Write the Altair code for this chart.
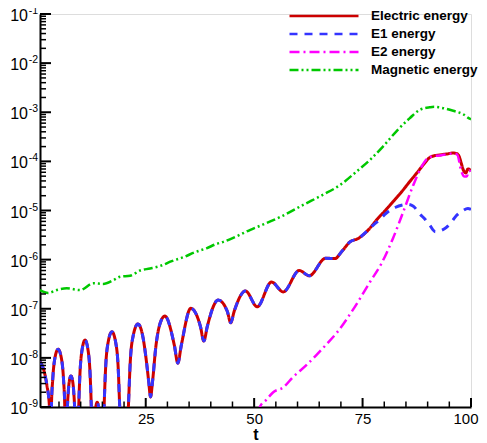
import altair as alt
import pandas as pd

# ---------------- data ----------------
# Early part: Electric energy and E1 energy coincide
osc_t = [0.62, 1.5, 2.2, 2.8, 3.0,
         3.25, 3.56, 4.02, 4.8, 5.58, 6.04, 6.33, 6.6,
         6.95, 7.11, 7.35, 7.75, 8.18, 8.43, 8.6, 9.1,
         9.55, 9.84, 10.28, 11.0, 11.73, 12.16, 12.45, 12.95,
         13.5, 13.8, 14.1, 14.75,
         15.4, 15.76, 16.3, 17.2, 18.1, 18.64, 19.0, 20.0,
         21.0, 21.44, 22.1, 23.2, 24.3, 25.2, 25.7, 26.1,
         26.6, 27.3, 28.3, 29.4, 31.6, 32.4, 33.2, 35.4, 37.6, 38.4, 39.2,
         41.7, 43.8, 44.6, 45.4, 48.0, 50.7, 54.0, 56.7, 60.4, 62.7,
         66.5, 68.6, 70.3, 72.1, 74.0, 76.3]
osc_v = [8.3e-9, 5.6e-9, 2.8e-9, 1e-9, 1e-11,
         1e-9, 3.7e-9, 9.5e-9, 1.5e-8, 9.5e-9, 3.7e-9, 1e-9, 1e-11,
         1e-9, 1.86e-9, 3.2e-9, 4.3e-9, 3.2e-9, 1.86e-9, 1e-9, 1e-11,
         1e-9, 4.9e-9, 1.38e-8, 2.3e-8, 1.38e-8, 4.9e-9, 1e-9, 1e-11,
         1e-9, 1.25e-9, 1e-9, 1e-11,
         1e-9, 6.5e-9, 2.0e-8, 3.4e-8, 2.0e-8, 6.5e-9, 1e-9, 1e-11,
         1e-9, 8.5e-9, 2.8e-8, 4.9e-8, 2.8e-8, 7.9e-9, 3.2e-9, 1.6e-9,
         3.5e-9, 1.6e-8, 5.0e-8, 7.1e-8, 1.8e-8, 7.8e-9, 1.8e-8, 1.02e-7, 4.4e-8, 2.2e-8, 4.4e-8,
         1.5e-7, 8.9e-8, 5.2e-8, 8.9e-8, 2.3e-7, 1.1e-7, 3.5e-7, 2.2e-7, 6.0e-7, 4.7e-7,
         1.07e-6, 1.05e-6, 1.5e-6, 2.3e-6, 2.7e-6, 4.0e-6]

electric_tail_t = [77.4, 78.2, 80.0, 82.0, 84.0, 85.9, 87.5, 89.0, 90.5, 91.5, 92.8,
                   94.5, 95.9, 96.6, 97.2, 97.7, 98.2, 98.8, 99.3, 99.7, 100.0]
electric_tail_v = [5.2e-6, 6.4e-6, 9.5e-6, 1.5e-5, 2.4e-5, 3.9e-5, 5.8e-5, 8.5e-5, 1.2e-4, 1.3e-4, 1.35e-4,
                   1.42e-4, 1.48e-4, 1.45e-4, 1.3e-4, 9.5e-5, 6.8e-5, 5.8e-5, 7.0e-5, 6.8e-5, 6.4e-5]

e1_tail_t = [77.4, 78.5, 80.5, 82.5, 84.4, 85.4, 86.7, 88.2, 89.5, 90.5, 91.8,
             93.0, 94.4, 95.6, 96.7, 98.0, 99.3, 100.0]
e1_tail_v = [5.0e-6, 6.0e-6, 8.9e-6, 1.15e-5, 1.3e-5, 1.33e-5, 1.22e-5, 8.5e-6, 6.5e-6, 5.0e-6, 3.7e-6,
             3.9e-6, 4.6e-6, 6.0e-6, 8.0e-6, 9.8e-6, 1.1e-5, 1.05e-5]

e2_t = [50.5, 51.3, 52.8, 54.4, 56.7, 59.0, 62.1, 64.4, 66.7, 69.0, 72.8, 76.7, 79.4,
        82.0, 84.4, 86.7, 88.6, 90.1, 91.5, 92.8, 94.5, 95.9, 96.8, 97.8, 98.5, 99.0, 99.6, 100.0]
e2_v = [3e-10, 1e-9, 1.4e-9, 2.0e-9, 2.5e-9, 4.1e-9, 7.2e-9, 1.15e-8, 1.9e-8, 3.2e-8, 9.6e-8, 3.5e-7, 8.5e-7,
        2.7e-6, 9.5e-6, 3.3e-5, 7.8e-5, 1.17e-4, 1.28e-4, 1.32e-4, 1.4e-4, 1.45e-4, 1.38e-4, 6.2e-5, 4.9e-5, 4.9e-5, 6.5e-5, 6.0e-5]

mag_t = [0.62, 2.5, 4.5, 6.8, 9.9, 12.9, 15.2, 17.5, 19.1, 21.4, 23.7, 26.0, 28.3, 31.0,
         33.7, 36.3, 39.0, 41.4, 42.9, 46.0, 49.0, 52.1, 56.7, 61.3, 65.9, 69.8, 73.6,
         76.7, 79.7, 82.8, 85.9, 88.2, 90.5, 91.5, 92.8, 95.9, 98.2, 99.7, 100.0]
mag_v = [2.4e-7, 2.1e-7, 2.4e-7, 2.6e-7, 2.4e-7, 3.3e-7, 3.2e-7, 3.8e-7, 4.5e-7, 4.7e-7, 6.0e-7, 6.6e-7, 7.4e-7, 9.3e-7,
         1.12e-6, 1.41e-6, 1.7e-6, 2.1e-6, 2.3e-6, 3.0e-6, 4.0e-6, 5.2e-6, 7.9e-6, 1.3e-5, 2.1e-5, 3.3e-5, 6.2e-5,
         1.07e-4, 2.0e-4, 4.1e-4, 7.6e-4, 1.12e-3, 1.26e-3, 1.29e-3, 1.25e-3, 1.07e-3, 9.1e-4, 7.4e-4, 7.2e-4]

series_names = ["Electric energy", "E1 energy", "E2 energy", "Magnetic energy"]
series_colors = ["#cc0000", "#3434ff", "#ff00ff", "#00c800"]
series_dash = [[1, 0], [8, 7], [10, 4, 2, 4], [9, 3, 2, 3, 2, 3]]
series_width = [3, 3, 2.5, 2.5]

y_major = [1e-9, 1e-8, 1e-7, 1e-6, 1e-5, 1e-4, 1e-3, 1e-2, 1e-1]
y_exp = ["-9", "-8", "-7", "-6", "-5", "-4", "-3", "-2", "-1"]
y_minor = [m * d for d in y_major[:-1] for m in range(2, 10)]
x_major = [25, 50, 75, 100]
x_minor = [5, 10, 15, 20, 30, 35, 40, 45, 55, 60, 65, 70, 80, 85, 90, 95]

# ---------------- tables ----------------
rows = []
for tt, vv in zip(osc_t + electric_tail_t, osc_v + electric_tail_v):
    rows.append({"series": series_names[0], "t": tt, "value": vv})
for tt, vv in zip(osc_t + e1_tail_t, osc_v + e1_tail_v):
    rows.append({"series": series_names[1], "t": tt, "value": vv})
for tt, vv in zip(e2_t, e2_v):
    rows.append({"series": series_names[2], "t": tt, "value": vv})
for tt, vv in zip(mag_t, mag_v):
    rows.append({"series": series_names[3], "t": tt, "value": vv})
df = pd.DataFrame(rows)

ymaj_df = pd.DataFrame({"value": y_major, "exp": y_exp})
ymin_df = pd.DataFrame({"value": y_minor})
xmaj_df = pd.DataFrame({"t": x_major})
xmin_df = pd.DataFrame({"t": x_minor})

FONT = "Liberation Sans"
W, H = 431, 393

x_scale = alt.Scale(domain=[0.62, 100], nice=False, zero=False)
y_scale = alt.Scale(type="log", domain=[1e-9, 1e-1], nice=False)

x_axis = alt.Axis(values=x_major, ticks=False, tickSize=0, grid=False, labelFont=FONT,
                  labelFontSize=15, labelColor="black", labelPadding=4,
                  labelFlush=True, labelFlushOffset=7,
                  title="t", titleFont=FONT, titleFontSize=16, titleFontWeight="bold",
                  titleColor="black", titlePadding=0, domainColor="black", domainWidth=2)
y_axis = alt.Axis(labels=False, ticks=False, tickSize=0, grid=False, title=None,
                  domainColor="black", domainWidth=2)

legend = alt.Legend(orient="none", legendX=248, legendY=-7, title=None, direction="vertical",
                    symbolType="stroke", symbolSize=4761, symbolStrokeWidth=2.5,
                    labelFont=FONT, labelFontSize=13.5, labelFontWeight="bold", labelColor="black",
                    labelOffset=11, rowPadding=0, padding=0, clipHeight=18, labelLimit=0)

color = alt.Color("series:N", scale=alt.Scale(domain=series_names, range=series_colors), legend=legend)
dash = alt.StrokeDash("series:N", scale=alt.Scale(domain=series_names, range=series_dash), legend=legend)

layers = []
for name, wdt in zip(series_names, series_width):
    layers.append(
        alt.Chart(df).transform_filter(alt.datum.series == name)
        .mark_line(clip=True, interpolate="monotone", strokeWidth=wdt)
        .encode(x=alt.X("t:Q", scale=x_scale, axis=x_axis),
                y=alt.Y("value:Q", scale=y_scale, axis=y_axis),
                color=color, strokeDash=dash,
                order=alt.Order("t:Q"))
    )

y_major_ticks = alt.Chart(ymaj_df).mark_rule(color="black", strokeWidth=2).encode(
    y=alt.Y("value:Q", scale=y_scale, axis=y_axis), x=alt.value(0), x2=alt.value(11))
y_minor_ticks = alt.Chart(ymin_df).mark_rule(color="black", strokeWidth=1.5).encode(
    y=alt.Y("value:Q", scale=y_scale, axis=y_axis), x=alt.value(0), x2=alt.value(6))
x_major_ticks = alt.Chart(xmaj_df).mark_rule(color="black", strokeWidth=2).encode(
    x=alt.X("t:Q", scale=x_scale, axis=x_axis), y=alt.value(H), y2=alt.value(H - 9))
x_minor_ticks = alt.Chart(xmin_df).mark_rule(color="black", strokeWidth=1.5).encode(
    x=alt.X("t:Q", scale=x_scale, axis=x_axis), y=alt.value(H), y2=alt.value(H - 5.5))

y_base = alt.Chart(ymaj_df).mark_text(align="right", baseline="middle", font=FONT,
                                      fontSize=16, color="black", dy=2).encode(
    y=alt.Y("value:Q", scale=y_scale, axis=y_axis), x=alt.value(-12), text=alt.value("10"))
y_pow = alt.Chart(ymaj_df).mark_text(align="right", baseline="middle", font=FONT,
                                     fontSize=10.5, color="black", dy=-3).encode(
    y=alt.Y("value:Q", scale=y_scale, axis=y_axis), x=alt.value(-2), text="exp:N")

chart = alt.layer(*layers, y_minor_ticks, y_major_ticks, x_minor_ticks, x_major_ticks, y_base, y_pow).properties(
    width=W, height=H,
    padding={"left": 32, "top": 6, "right": 8, "bottom": 36},
    autosize=alt.AutoSizeParams(type="none"),
    background="white",
).configure_view(stroke=None).configure(font=FONT)

chart.save("out.html", embed_options={"renderer": "svg", "actions": False})
